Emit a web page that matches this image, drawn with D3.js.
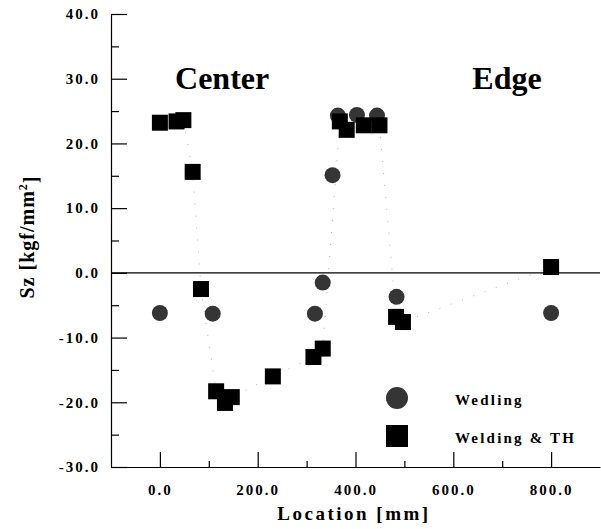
<!DOCTYPE html>
<html>
<head>
<meta charset="utf-8">
<script src="https://cdn.jsdelivr.net/npm/d3@7"></script>
<style>
  body { margin: 0; background: #fff; }
  text { font-family: "Liberation Serif", "Times New Roman", serif; font-weight: bold; }
</style>
</head>
<body>
<div id="wrapper"></div>
<script>
// data
const weldLoc = [0, 108, 317, 333, 353, 364, 403, 444, 484, 800]
const weldSz  = [-6.2, -6.3, -6.3, -1.5, 15.1, 24.3, 24.4, 24.3, -3.7, -6.2]

const thLoc = [0, 34, 48, 67, 84, 115, 133, 147, 231, 314, 333, 368, 382, 417, 449, 483, 497, 800]
const thSz  = [23.2, 23.4, 23.6, 15.6, -2.5, -18.3, -20.1, -19.2, -16.0, -13.0, -11.7, 23.4, 22.1, 22.8, 22.8, -6.8, -7.6, 0.9]

const xMajor = [0, 200, 400, 600, 800]
const xMinor = [100, 300, 500, 700]
const yMajor = [-30, -20, -10, 0, 10, 20, 30, 40]
const yMinor = [-25, -15, -5, 5, 15, 25, 35]

const seriesNames = ["Wedling", "Welding & TH"]
const regionNames = ["Center", "Edge"]
const regionLoc = [31, 639]   // location where each region label starts

// dimensions
const dimensions = {
  width: 601,
  height: 529,
  margin: { top: 14, right: 1, bottom: 62, left: 111 }
}
dimensions.boundedWidth = dimensions.width - dimensions.margin.left - dimensions.margin.right
dimensions.boundedHeight = dimensions.height - dimensions.margin.top - dimensions.margin.bottom

const svg = d3.select("#wrapper").append("svg")
  .attr("width", dimensions.width)
  .attr("height", dimensions.height)

const bounds = svg.append("g")
  .attr("transform", `translate(${dimensions.margin.left},${dimensions.margin.top})`)

// scales
const xScale = d3.scaleLinear().domain([-100, 900]).range([0, dimensions.boundedWidth])
const yScale = d3.scaleLinear().domain([-30, 40]).range([dimensions.boundedHeight, 0])

// axes
const fmt = d => d.toFixed(1)

const yAxis = bounds.append("g")
  .call(d3.axisLeft(yScale).tickValues(yMajor).tickSize(-16).tickSizeOuter(0).tickPadding(11).tickFormat(fmt))
yAxis.append("g")
  .call(d3.axisLeft(yScale).tickValues(yMinor).tickSize(-8).tickSizeOuter(0).tickFormat(""))
  .select(".domain").remove()

const xAxis = bounds.append("g")
  .attr("transform", `translate(0,${dimensions.boundedHeight})`)
  .call(d3.axisBottom(xScale).tickValues(xMajor).tickSize(-15).tickSizeOuter(0).tickPadding(17).tickFormat(fmt))
xAxis.append("g")
  .call(d3.axisBottom(xScale).tickValues(xMinor).tickSize(-6).tickSizeOuter(0).tickFormat(""))
  .select(".domain").remove()

bounds.selectAll(".tick text")
  .style("font-family", "Liberation Serif")
  .style("font-weight", "bold")
  .style("font-size", "15px")
  .style("letter-spacing", "2px")
  .attr("fill", "#000")
bounds.selectAll(".domain, .tick line").attr("stroke", "#000").attr("stroke-width", 1.2)

// zero line
bounds.append("line")
  .attr("x1", 0).attr("x2", dimensions.boundedWidth)
  .attr("y1", yScale(0)).attr("y2", yScale(0))
  .attr("stroke", "#000").attr("stroke-width", 1.2)

// faint, sparse dotted line through the squares
const thPoints = d3.zip(thLoc, thSz)
bounds.append("path")
  .datum(thPoints)
  .attr("d", d3.line().x(d => xScale(d[0])).y(d => yScale(d[1])))
  .attr("fill", "none")
  .attr("stroke", "#555")
  .attr("stroke-opacity", 0.45)
  .attr("stroke-width", 1)
  .style("stroke-dasharray", "1 11")

// circles
bounds.append("g").selectAll("circle")
  .data(d3.zip(weldLoc, weldSz))
  .join("circle")
  .attr("cx", d => xScale(d[0]))
  .attr("cy", d => yScale(d[1]))
  .attr("r", 8)
  .attr("fill", "#353535")

// squares
const sq = 16
bounds.append("g").selectAll("rect")
  .data(thPoints)
  .join("rect")
  .attr("x", d => xScale(d[0]) - sq / 2)
  .attr("y", d => yScale(d[1]) - sq / 2)
  .attr("width", sq)
  .attr("height", sq)
  .attr("fill", "#000")

// region labels
bounds.selectAll(".region")
  .data(regionNames)
  .join("text")
  .attr("class", "region")
  .attr("x", (d, i) => xScale(regionLoc[i]))
  .attr("y", 75)
  .style("font-size", "32px")
  .text(d => d)

// legend
const legend = bounds.append("g").attr("transform", "translate(286,384)")
legend.append("circle").attr("cx", 0).attr("cy", 0).attr("r", 11).attr("fill", "#353535")
legend.append("rect").attr("x", -11).attr("y", 27).attr("width", 22).attr("height", 22).attr("fill", "#000")
legend.selectAll("text")
  .data(seriesNames)
  .join("text")
  .attr("x", 58)
  .attr("y", (d, i) => 7 + i * 37.5)
  .style("font-size", "15px")
  .style("letter-spacing", "2.2px")
  .text(d => d)

// axis titles
svg.append("text")
  .attr("x", 354)
  .attr("y", 520)
  .attr("text-anchor", "middle")
  .style("font-size", "19px")
  .style("letter-spacing", "2.5px")
  .text("Location [mm]")

const yTitle = svg.append("text")
  .attr("transform", "translate(34,237) rotate(-90)")
  .attr("text-anchor", "middle")
  .style("font-size", "20px")
  .style("letter-spacing", "1px")
yTitle.append("tspan").text("Sz [kgf/mm")
yTitle.append("tspan").attr("dy", "-0.55em").style("font-size", "12px").text("2")
yTitle.append("tspan").attr("dy", "0.55em").text("]")
</script>
</body>
</html>
